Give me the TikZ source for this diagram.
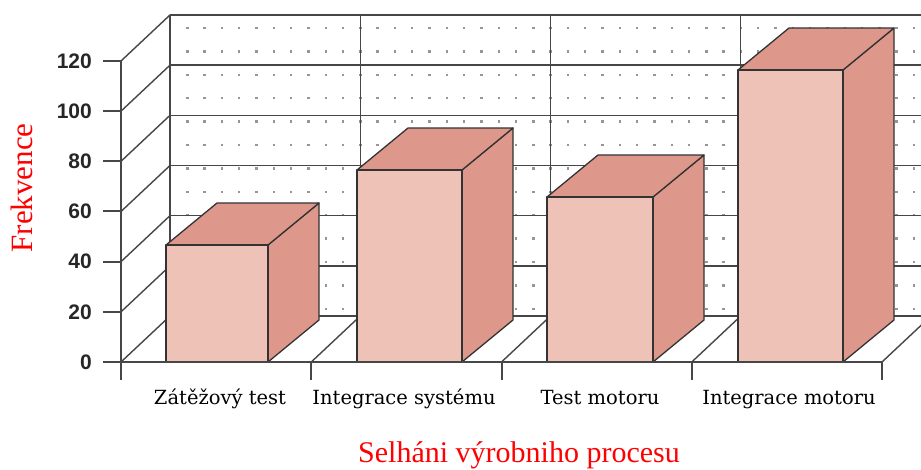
\documentclass[tikz,border=0pt]{standalone}
\usepackage{fontspec}
\setmainfont{Liberation Serif}
\newfontfamily\catfont{DejaVu Serif}
\newfontfamily\numfont{Liberation Sans}
\definecolor{barfront}{RGB}{238,194,182}
\definecolor{barside}{RGB}{221,151,139}
\definecolor{gridgray}{RGB}{70,70,70}
\definecolor{dotgray}{RGB}{150,150,150}

\begin{document}
\begin{tikzpicture}[x=1pt, y=-1pt,
  wall/.style={draw=gridgray, line width=1.4pt},
  axisline/.style={draw=black!72, line width=2pt},
  barface/.style={draw=black!80, line width=1.3pt, line join=round},
  ticklbl/.style={font=\numfont\bfseries\fontsize{21}{21}\selectfont,
                  text=black!85, anchor=east, inner sep=0pt},
  catlbl/.style={font=\catfont\fontsize{19.5}{19.5}\selectfont,
                 anchor=base, inner sep=0pt},
  ttl/.style={text=red, anchor=base, inner sep=0pt}]
\clip (0,0) rectangle (921,469);

% back wall: dots, grid, floor
\foreach \i in {1,...,43}
  \foreach \j in {0,...,12}
    \fill[dotgray] (170+17.3*\i-1.2, 28+23.4*\j-1.2) rectangle ++(2.4,2.4);
\foreach \v in {0,...,6} {
  \draw[wall] (170, 316-50.17*\v) -- (930, 316-50.17*\v);
  \draw[wall] (121, 362-50.17*\v) -- (170, 316-50.17*\v);
}
\foreach \k in {0,...,4}
  \draw[wall] (170+190.25*\k, 15) -- (170+190.25*\k, 316);
\foreach \k in {1,...,4}
  \draw[wall] (121+190.25*\k, 362) -- (170+190.25*\k, 316);

% bars
\foreach \fl/\fr/\ty [count=\n] in {166/268/245, 357/462/170,
                                    547/653/197, 738/843/70} {
  \filldraw[barface, fill=barside] (\fr,362) -- (\fr+51,320)
    -- (\fr+51,\ty-42) -- (\fr,\ty) -- cycle;
  \filldraw[barface, fill=barside] (\fl,\ty) -- (\fl+51,\ty-42)
    -- (\fr+51,\ty-42) -- (\fr,\ty) -- cycle;
  \filldraw[barface, fill=barfront] (\fl,362) rectangle (\fr,\ty);
}

% axes
\draw[axisline] (121,61) -- (121,380);
\draw[axisline] (121,362) -- (882,362);
\foreach \v in {0,...,6}
  \draw[axisline] (103, 362-50.17*\v) -- (121, 362-50.17*\v);
\foreach \k in {1,...,4}
  \draw[axisline] (121+190.25*\k, 362) -- (121+190.25*\k, 380);

\foreach \v/\t in {0/0, 1/20, 2/40, 3/60, 4/80, 5/100, 6/120}
  \node[ticklbl] (tick\v) at (92, 362-50.17*\v) {\t};

\node[catlbl] (zatez) at (220,404) {Zátěžový test};
\node[catlbl] (intsys) at (404,404) {Integrace systému};
\node[catlbl] (testmot) at (600,404) {Test motoru};
\node[catlbl] (intmot) at (789,404) {Integrace motoru};

\node[ttl, font=\fontsize{31}{31}\selectfont, rotate=90] (ylabel)
  at (32,188) {Frekvence};
\node[ttl, font=\fontsize{30}{30}\selectfont] (xlabel)
  at (519,462) {Selháni výrobniho procesu};
\end{tikzpicture}
\end{document}
